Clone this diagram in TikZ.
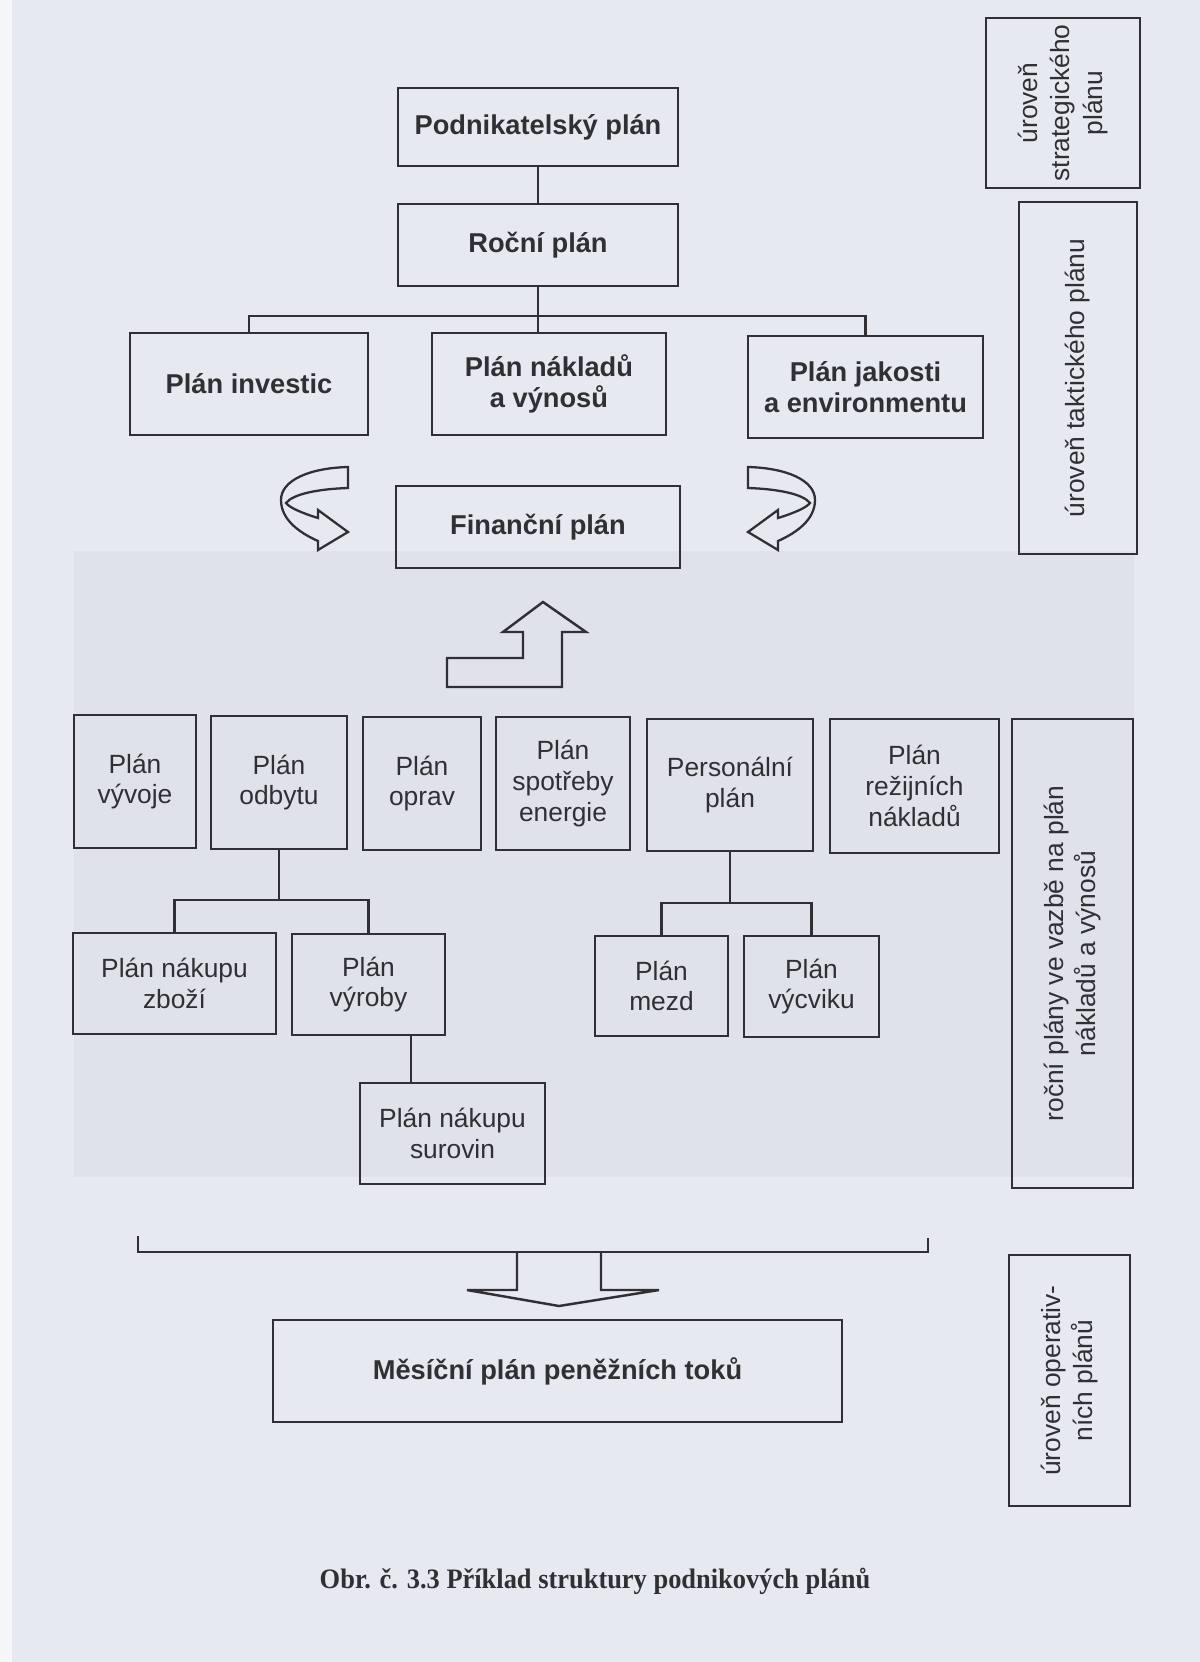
\documentclass[tikz,border=0pt]{standalone}
\usepackage{fontspec}
\setmainfont{Liberation Sans}
\newfontfamily\capfont[FakeStretch=0.94]{Liberation Serif}
\definecolor{pagebg}{RGB}{231,233,240}
\definecolor{blockbg}{RGB}{224,226,233}
\definecolor{ink}{RGB}{48,48,50}
\tikzset{
  boxb/.style={draw=ink, line width=1.5pt, text=ink, font=\fontsize{15.5}{17.5}\selectfont\bfseries, align=center, inner sep=0pt},
  boxr/.style={draw=ink, line width=1.4pt, text=ink, font=\fontsize{15}{17.5}\selectfont, align=center, inner sep=0pt},
  sidebox/.style={draw=ink, line width=1.5pt, text=ink, font=\fontsize{15}{18.5}\selectfont, align=center, inner sep=0pt, rotate=90},
  conn/.style={draw=ink, line width=1.3pt},
  bigarrow/.style={draw=ink, line width=1.4pt, line join=miter},
}
\newcommand\pbox[7][boxb]{\node[#1, minimum width={(#5-#3)*0.2mm}, minimum height={(#6-#4)*0.2mm}] (#2) at ({(#3+#5)/2},{(#4+#6)/2}) {#7};}
\newcommand\sidelabel[6]{\node[sidebox, minimum width={(#5-#3)*0.2mm}, minimum height={(#4-#2)*0.2mm}] (#1) at ({(#2+#4)/2},{(#3+#5)/2}) {#6};}
\newcommand\curlarrow{\draw[bigarrow, line width=1.3pt] (348,467) .. controls (310,468) and (281,480) .. (281,500) .. controls (281,520) and (300,533) .. (318,541) -- (318,550) -- (348,532) -- (318,510) -- (318,518) .. controls (302,513) and (290,508) .. (286,503) .. controls (293,494) and (318,489) .. (348,488) -- cycle;}
\begin{document}
\begin{tikzpicture}[x=0.2mm, y=-0.2mm]
\useasboundingbox (0,0) rectangle (1200,1662);
\fill[pagebg] (0,0) rectangle (1200,1662);
\fill[white!60!pagebg] (0,0) rectangle (12,1662);
\fill[blockbg] (74,551) rectangle (1134,1177);

% top level
\pbox{podn}{398}{88}{678}{166}{Podnikatelský plán}
\pbox{rocni}{398}{204}{678}{286}{Roční plán}
\pbox{invest}{130}{333}{368}{435}{Plán investic}
\pbox{naklady}{432}{333}{666}{435}{Plán nákladů\\a výnosů}
\pbox{jakost}{748}{336}{983}{438}{Plán jakosti\\a environmentu}
\pbox{fin}{396}{486}{680}{568}{Finanční plán}

% annual plans
\pbox[boxr]{vyvoj}{74}{715}{196}{848}{Plán\\vývoje}
\pbox[boxr]{odbyt}{211}{716}{347}{849}{Plán\\odbytu}
\pbox[boxr]{oprav}{363}{717}{481}{850}{Plán\\oprav}
\pbox[boxr]{energ}{496}{717}{630}{850}{Plán\\spotřeby\\energie}
\pbox[boxr]{person}{647}{719}{813}{851}{Personální\\plán}
\pbox[boxr]{rezie}{830}{719}{999}{853}{Plán\\režijních\\nákladů}
\pbox[boxr]{zbozi}{73}{933}{276}{1034}{Plán nákupu\\zboží}
\pbox[boxr]{vyroba}{292}{934}{445}{1035}{Plán\\výroby}
\pbox[boxr]{surov}{360}{1083}{545}{1184}{Plán nákupu\\surovin}
\pbox[boxr]{mzdy}{595}{936}{728}{1036}{Plán\\mezd}
\pbox[boxr]{vycvik}{744}{936}{879}{1037}{Plán\\výcviku}

% monthly
\pbox{mesic}{273}{1320}{842}{1422}{Měsíční plán peněžních toků}

% side labels
\sidelabel{strat}{986}{18}{1140}{188}{úroveň\\strategického\\plánu}
\sidelabel{takt}{1019}{202}{1137}{554}{úroveň taktického plánu}
\sidelabel{rocpl}{1012}{719}{1133}{1188}{roční plány ve vazbě na plán\\nákladů a výnosů}
\sidelabel{oper}{1009}{1255}{1130}{1506}{úroveň operativ-\\ních plánů}

% connectors
\coordinate (hb) at (0,316);
\coordinate (hb2) at (0,900);
\coordinate (hb3) at (0,903);
\coordinate (hb4) at (0,1252);
\coordinate (vs) at (411,0);
\draw[conn] (podn.south) -- (rocni.north);
\draw[conn] (rocni.south) -- (naklady.north -| rocni.south);
\draw[conn] (invest.north) |- (hb -| jakost.north) -- (jakost.north);
\draw[conn] (odbyt.south) -- (odbyt.south |- hb2);
\draw[conn] (zbozi.north) |- (hb2 -| vyroba.north) -- (vyroba.north);
\draw[conn] (vyroba.south -| vs) -- (surov.north -| vs);
\draw[conn] (person.south) -- (person.south |- hb3);
\draw[conn] (mzdy.north) |- (hb3 -| vycvik.north) -- (vycvik.north);

% bracket collecting the annual plans
\coordinate (brL) at (138,1236);
\coordinate (brR) at (928,1238);
\draw[conn] (brL) -- (brL |- hb4) -- (brR |- hb4) -- (brR);

% big arrows
\draw[bigarrow] (517,1252) -- (517,1290) -- (467,1290) -- (559,1306) -- (659,1290) -- (601,1290) -- (601,1252);
\draw[bigarrow] (447,687) -- (562,687) -- (562,632) -- (586,632) -- (543,602) -- (503,632) -- (523,632) -- (523,658) -- (447,658) -- cycle;
\curlarrow
\begin{scope}[shift={(1096,0)}, xscale=-1]
\curlarrow
\end{scope}

% caption
\node[text=ink, font=\capfont\bfseries\fontsize{16}{18}\selectfont, anchor=base] (cap) at (595,1588) {Obr. č. 3.3 Příklad struktury podnikových plánů};
\end{tikzpicture}
\end{document}
